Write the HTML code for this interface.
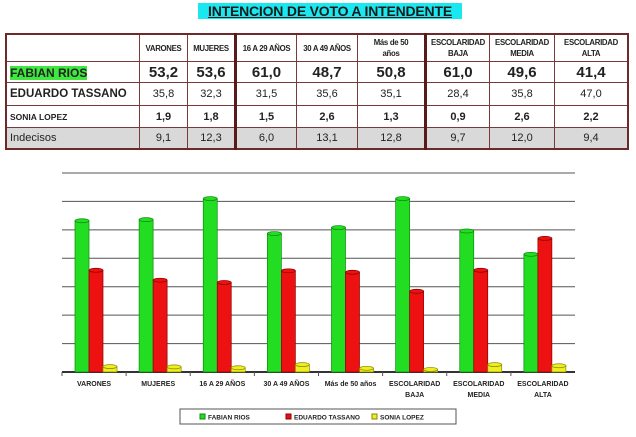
<!DOCTYPE html>
<html><head><meta charset="utf-8"><style>
body{margin:0;width:636px;height:437px;background:#fff;font-family:"Liberation Sans",sans-serif;overflow:hidden;position:relative}
#title{position:absolute;left:198px;top:3px;width:264px;height:16px;background:#19e8f0;font-weight:bold;font-size:14px;text-decoration:underline;color:#1a1a1a;text-align:center;line-height:16px;letter-spacing:-0.2px}
table{position:absolute;left:5px;top:33px;border-collapse:collapse;border:2px solid #6b2b2b}
td{border:1px solid #7a3a3a;text-align:center;padding:0;font-size:10px;color:#222}
.h td{font-size:7.8px;font-weight:bold;height:26px;line-height:11px;letter-spacing:-0.3px}
.t{border-left:3px solid #5a1a1a}
.f td{font-size:15px;font-weight:bold;height:20px}
.e td{font-size:11px;height:22px}
.s td{font-size:11px;height:21px;font-weight:bold}
.i td{background:#d9d9d9;height:20px;font-size:11px}
td.n{text-align:left;padding-left:3px}
</style></head><body>
<div id="title">INTENCION DE VOTO A INTENDENTE</div>
<table>
<tr class="h"><td style="width:132px"></td><td style="width:47px">VARONES</td><td style="width:46px">MUJERES</td><td class="t" style="width:59px">16 A 29 AÑOS</td><td style="width:60px">30 A 49 AÑOS</td><td style="width:66px">Más de 50<br>años</td><td class="t" style="width:62px">ESCOLARIDAD<br>BAJA</td><td style="width:64px">ESCOLARIDAD<br>MEDIA</td><td style="width:72px">ESCOLARIDAD<br>ALTA</td></tr>
<tr class="f"><td class="n"><span style="background:#3fe83f;font-size:12px">FABIAN RIOS</span></td><td>53,2</td><td>53,6</td><td class="t">61,0</td><td>48,7</td><td>50,8</td><td class="t">61,0</td><td>49,6</td><td>41,4</td></tr>
<tr class="e"><td class="n" style="font-weight:bold;font-size:11.5px">EDUARDO TASSANO</td><td>35,8</td><td>32,3</td><td class="t">31,5</td><td>35,6</td><td>35,1</td><td class="t">28,4</td><td>35,8</td><td>47,0</td></tr>
<tr class="s"><td class="n" style="font-size:8.5px">SONIA LOPEZ</td><td>1,9</td><td>1,8</td><td class="t">1,5</td><td>2,6</td><td>1,3</td><td class="t">0,9</td><td>2,6</td><td>2,2</td></tr>
<tr class="i"><td class="n">Indecisos</td><td>9,1</td><td>12,3</td><td class="t">6,0</td><td>13,1</td><td>12,8</td><td class="t">9,7</td><td>12,0</td><td>9,4</td></tr>
</table>
<svg id="chart" width="636" height="437" style="position:absolute;left:0;top:0"></svg>
<script>
const categories=["VARONES","MUJERES","16 A 29 AÑOS","30 A 49 AÑOS","Más de 50 años","ESCOLARIDAD|BAJA","ESCOLARIDAD|MEDIA","ESCOLARIDAD|ALTA"];
const fabian=[53.2,53.6,61.0,48.7,50.8,61.0,49.6,41.4];
const tassano=[35.8,32.3,31.5,35.6,35.1,28.4,35.8,47.0];
const sonia=[1.9,1.8,1.5,2.6,1.3,0.9,2.6,2.2];
const yTicks=[0,10,20,30,40,50,60,70];
const seriesNames=["FABIAN RIOS","EDUARDO TASSANO","SONIA LOPEZ"];
const svg=document.getElementById('chart');const NS='http://www.w3.org/2000/svg';
const x0=62,x1=575,y0=372,yTop=173,yMax=70;
const y=v=>y0-(v/yMax)*(y0-yTop);
const bw=(x1-x0)/categories.length;
const xc=i=>x0+i*bw;
function mk(t,a){const e=document.createElementNS(NS,t);for(const k in a)e.setAttribute(k,a[k]);svg.appendChild(e);return e;}
yTicks.forEach(t=>{const l=mk('line',{x1:x0,x2:x1,y1:y(t),y2:y(t),stroke:t?'#555':'#333','stroke-width':t?1:2});
});
const series=[[fabian,'#22dd22','#0a8a0a'],[tassano,'#ee1111','#8a0000'],[sonia,'#eeee22','#888800']];
categories.forEach((c,i)=>{
 series.forEach((s,j)=>{const v=s[0][i];const bx=xc(i)+13+j*14;const top=y(v);
  const r=mk('rect',{x:bx,y:top,width:14,height:y0-top,fill:s[1],stroke:s[2],'stroke-width':0.7});
  
  const e=mk('ellipse',{cx:bx+7,cy:top,rx:7,ry:2,fill:s[1],stroke:s[2],'stroke-width':0.7});
  });
 const tk=mk('line',{x1:xc(i),x2:xc(i),y1:y0,y2:y0+4,stroke:'#555'});
 
 c.split('|').forEach((p,k)=>{const t=mk('text',{x:xc(i)+bw/2,y:386+k*11,'text-anchor':'middle','font-size':7,'font-weight':'bold',fill:'#222'});t.textContent=p;
 });
});
const lg=mk('rect',{x:180,y:409,width:276,height:15,fill:'#fff',stroke:'#555'});

seriesNames.forEach((n,j)=>{const lx=200+j*86;
 const sw=mk('rect',{x:lx,y:414,width:5,height:5,fill:series[j][1],stroke:series[j][2]});
 
 const t=mk('text',{x:lx+8,y:419.5,'font-size':6.5,'font-weight':'bold',fill:'#222'});t.textContent=n;
 });
</script>
</body></html>
